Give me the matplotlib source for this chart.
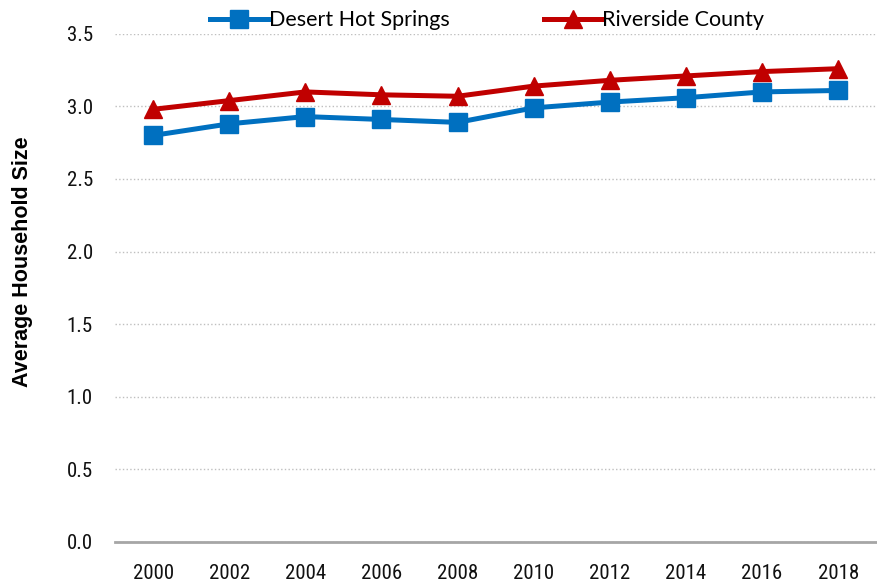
import numpy as np
import matplotlib
matplotlib.use("Agg")
import matplotlib.pyplot as plt
from matplotlib import font_manager

years = ["2000", "2002", "2004", "2006", "2008", "2010", "2012", "2014", "2016", "2018"]
desert_hot_springs = [2.80, 2.88, 2.93, 2.91, 2.89, 2.99, 3.03, 3.06, 3.10, 3.11]
riverside_county = [2.98, 3.04, 3.10, 3.08, 3.07, 3.14, 3.18, 3.21, 3.24, 3.26]
yticks = [0.0, 0.5, 1.0, 1.5, 2.0, 2.5, 3.0, 3.5]


def pick_font(names):
    for n in names:
        try:
            font_manager.findfont(n, fallback_to_default=False)
            return n
        except Exception:
            pass
    return "DejaVu Sans"


narrow = pick_font(["Liberation Sans Narrow", "Roboto Condensed", "Arial Narrow", "Liberation Sans"])

fig = plt.figure(figsize=(8.78, 5.84), dpi=100)
ax = fig.add_axes([0.131, 0.0724, 0.867, 0.8696])

x = np.arange(len(years))
ax.plot(x, desert_hot_springs, color="#0070C0", lw=3.6, marker="s", ms=13,
        label="Desert Hot Springs")
ax.plot(x, riverside_county, color="#C00000", lw=3.6, marker="^", ms=13,
        label="Riverside County")

ax.set_xlim(-0.5, len(years) - 0.5)
ax.set_ylim(0, 3.5)
ax.set_xticks(x)
ax.set_xticklabels(years, family=narrow, fontsize=15)
ax.set_yticks(yticks)
ax.set_yticklabels(["{:.1f}".format(v) for v in yticks], family=narrow, fontsize=15)
ax.tick_params(length=0, colors="#111111")
ax.tick_params(axis="x", pad=16)
ax.tick_params(axis="y", pad=16)

for s in ["top", "right", "left"]:
    ax.spines[s].set_visible(False)
ax.spines["bottom"].set_color("#A6A6A6")
ax.spines["bottom"].set_linewidth(2)
ax.yaxis.grid(True, color="#BFBFBF", ls=":", lw=1)
ax.set_axisbelow(True)

ax.set_ylabel("Average Household Size", family="Liberation Sans", fontweight="bold",
              fontsize=15.5)
ax.yaxis.set_label_coords(-0.108, 0.551)

ax.legend(loc="lower center", bbox_to_anchor=(0.489, 0.99), ncol=2, frameon=False,
          prop={"family": "Lato", "size": 15.5}, handlelength=2.7, handletextpad=0.0,
          columnspacing=4.4, borderaxespad=0)

plt.savefig("out.png", dpi=100)
